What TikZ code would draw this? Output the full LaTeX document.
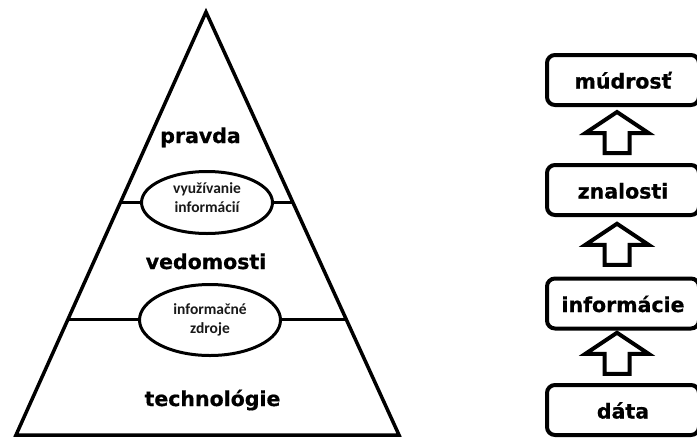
\documentclass[tikz,border=0pt]{standalone}
\usepackage{fontspec}
\setmainfont{DejaVu Sans}[BoldFeatures={FakeBold=0.7}]
\newfontfamily\bubblefont{Carlito}
\usetikzlibrary{calc,shapes.geometric}
\begin{document}
\begin{tikzpicture}[x=1pt,y=-1pt,
  layerlabel/.style={font=\bfseries\fontsize{20.5}{24}\selectfont, inner sep=0pt, anchor=base},
  bubble/.style={ellipse, draw, line width=3pt, fill=white, inner sep=0pt},
  bubbletext/.style={font=\bubblefont\bfseries\fontsize{15.5}{19}\selectfont, align=center,
    text=black!90, inner sep=0pt},
  levelbox/.style={draw, line width=4pt, rounded corners=8pt, fill=white,
    minimum width=152pt, minimum height=50pt, inner sep=0pt,
    text height=17pt, text depth=0pt,
    font=\bfseries\fontsize{20.5}{24}\selectfont},
  blockarrow/.style={draw, line width=4pt, fill=white, miter limit=10},
  pics/uparrow/.style={code={
    \draw[blockarrow] (0,-20.5) -- (31.5,0.5) -- (12.5,0.5) -- (12.5,20.5)
      -- (-12.5,20.5) -- (-12.5,0.5) -- (-31.5,0.5) -- cycle;
  }}]
\useasboundingbox (0,0) rectangle (697,440);
\clip (0,0) rectangle (697,440);

% pyramid outline
\coordinate (apex) at (206,12);
\coordinate (bl) at (16,435);
\coordinate (br) at (399,435);
\draw[line width=3.5pt, line join=miter] (apex) -- (br) -- (bl) -- cycle;

% dividing lines
\path (apex) -- (bl) coordinate[pos=0.4492] (l1) coordinate[pos=0.7258] (l2);
\path (apex) -- (br) coordinate[pos=0.4492] (r1) coordinate[pos=0.7258] (r2);
\draw[line width=3pt] (l1) -- (r1);
\draw[line width=3pt] (l2) -- (r2);

% ellipses on the dividing lines
\node[bubble, minimum width=131pt, minimum height=62pt] (e1) at (207,202.5) {};
\node[bubbletext] (e1t) at ([yshift=5pt]e1.center) {využívanie\\informácií};
\node[bubble, minimum width=141pt, minimum height=71pt] (e2) at (210,320) {};
\node[bubbletext] (e2t) at (e2.center) {informačné\\zdroje};

% layer labels
\node[layerlabel] (pravda) at (200.5,143) {pravda};
\node[layerlabel] (vedomosti) at (206,269) {vedomosti};
\node[layerlabel] (tech) at (212.5,406) {technológie};

% hierarchy boxes
\node[levelbox] (b1) at (623,80) {múdrosť};
\node[levelbox] (b2) at (623,190) {znalosti};
\node[levelbox] (b3) at (623,303.5) {informácie};
\node[levelbox] (b4) at (623,410) {dáta};

% block arrows between boxes
\pic at ($($(b2.north)!0.5!(b1.south)$)+(-6,-2.5)$) {uparrow};
\pic at ($($(b3.north)!0.5!(b2.south)$)+(-6,-2.5)$) {uparrow};
\pic at ($($(b4.north)!0.5!(b3.south)$)+(-6,-3.5)$) {uparrow};
\end{tikzpicture}
\end{document}
